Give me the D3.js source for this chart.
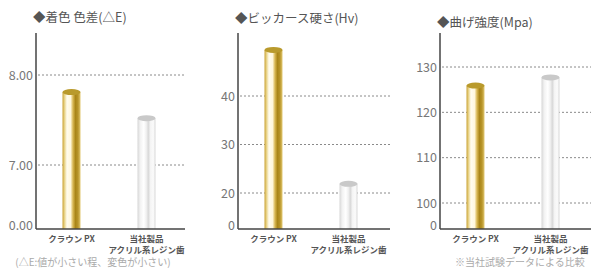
<!DOCTYPE html>
<html>
<head>
<meta charset="utf-8">
<script src="https://cdn.jsdelivr.net/npm/d3@7"></script>
<style>
body { margin: 0; background: #fff; }
#vis { width: 591px; height: 268px; }
text { font-family: "Noto Sans CJK JP", "Noto Sans", sans-serif; }
</style>
</head>
<body>
<div id="vis"></div>
<script>
var width = 591;
var height = 268;

// data
var categories = ['クラウン PX', '当社製品|アクリル系レジン歯'];
var titles = ['◆着色 色差(△E)', '◆ビッカース硬さ(Hv)', '◆曲げ強度(Mpa)'];
var colorValues = [7.81, 7.52];
var hardnessValues = [49.5, 21.9];
var strengthValues = [125.9, 127.7];
var colorTicks = [0, 7, 8];
var hardnessTicks = [0, 20, 30, 40];
var strengthTicks = [0, 100, 110, 120, 130];
var colorTickLabels = ['0.00', '7.00', '8.00'];
var hardnessTickLabels = ['0', '20', '30', '40'];
var strengthTickLabels = ['0', '100', '110', '120', '130'];
var notes = ['(△E:値が小さい程、変色が小さい)', '', '※当社試験データによる比較'];

var baseY = 229;
var topY = 33;

var panels = [
    { axisX: 36, right: 185, titleY: 22, values: colorValues, ticks: colorTicks, labels: colorTickLabels,
      domain: [0, 7, 8], range: [baseY, 165, 75], note: notes[0], noteX: 93 },
    { axisX: 238, right: 390, titleY: 23, values: hardnessValues, ticks: hardnessTicks, labels: hardnessTickLabels,
      domain: [0, 20, 40], range: [baseY, 193, 96], note: notes[1], noteX: 0 },
    { axisX: 440, right: 591, titleY: 27, values: strengthValues, ticks: strengthTicks, labels: strengthTickLabels,
      domain: [0, 100, 130], range: [baseY, 203, 67], note: notes[2], noteX: 455 }
];

var svg = d3.select('#vis')
    .append('svg')
    .attr('width', width)
    .attr('height', height);

var defs = svg.append('defs');

var gold = defs.append('linearGradient').attr('id', 'gold');
[[0, '#c9a233'], [0.12, '#ead68e'], [0.25, '#fffcef'], [0.45, '#fff7dc'], [0.58, '#d9b853'],
 [0.72, '#a98518'], [0.86, '#b8952a'], [1, '#e2c871']].forEach(function(s) {
    gold.append('stop').attr('offset', s[0]).attr('stop-color', s[1]);
});

var silver = defs.append('linearGradient').attr('id', 'silver');
[[0, '#d6d6d6'], [0.15, '#f2f2f2'], [0.35, '#ffffff'], [0.5, '#eeeeee'], [0.6, '#d8d8d8'],
 [0.72, '#f4f4f4'], [0.88, '#fbfbfb'], [1, '#d9d9d9']].forEach(function(s) {
    silver.append('stop').attr('offset', s[0]).attr('stop-color', s[1]);
});

var fills = ['url(#gold)', 'url(#silver)'];
var capFills = ['#b99a2c', '#c9c9c9'];

panels.forEach(function(p, i) {
    var g = svg.append('g');

    var y_scale = d3.scaleLinear()
        .domain(p.domain)
        .range(p.range);

    var x_scale = d3.scaleBand()
        .domain(categories)
        .range([p.axisX - 2, p.axisX + 148])
        .paddingInner(0.76)
        .paddingOuter(0.38);

    // title
    g.append('text')
        .attr('x', p.axisX - 3)
        .attr('y', p.titleY)
        .attr('font-size', 12.5)
        .attr('fill', '#555')
        .text(titles[i]);

    // grid lines (skip 0)
    g.selectAll('.grid')
        .data(p.ticks.filter(function(d) { return d > 0; }))
        .enter()
        .append('line')
        .attr('x1', p.axisX + 2)
        .attr('x2', p.right)
        .attr('y1', function(d) { return y_scale(d); })
        .attr('y2', function(d) { return y_scale(d); })
        .attr('stroke', '#8a8a8a')
        .attr('stroke-width', 1)
        .attr('stroke-dasharray', '2,2');

    // tick labels
    g.selectAll('.tick')
        .data(p.ticks)
        .enter()
        .append('text')
        .attr('x', p.axisX - 3)
        .attr('y', function(d) { return y_scale(d) + (d === 0 ? 1 : 4.5); })
        .attr('text-anchor', 'end')
        .attr('font-size', 12.5)
        .attr('fill', '#777')
        .text(function(d, j) { return p.labels[j]; });

    // bars
    var bw = x_scale.bandwidth();
    var bars = g.selectAll('.bar')
        .data(p.values)
        .enter()
        .append('g');

    bars.append('rect')
        .attr('x', function(d, j) { return x_scale(categories[j]); })
        .attr('y', function(d) { return y_scale(d); })
        .attr('width', bw)
        .attr('height', function(d) { return baseY - y_scale(d); })
        .attr('fill', function(d, j) { return fills[j]; });

    bars.append('ellipse')
        .attr('cx', function(d, j) { return x_scale(categories[j]) + bw / 2; })
        .attr('cy', function(d) { return y_scale(d); })
        .attr('rx', bw / 2)
        .attr('ry', 3)
        .attr('fill', function(d, j) { return capFills[j]; });

    // axes
    g.append('line')
        .attr('x1', p.axisX).attr('x2', p.axisX)
        .attr('y1', topY).attr('y2', baseY)
        .attr('stroke', '#444').attr('stroke-width', 1.5);
    g.append('line')
        .attr('x1', p.axisX).attr('x2', p.right)
        .attr('y1', baseY).attr('y2', baseY)
        .attr('stroke', '#444').attr('stroke-width', 1.5);

    // category labels
    categories.forEach(function(c, j) {
        var lines = c.split('|');
        lines.forEach(function(l, k) {
            g.append('text')
                .attr('x', x_scale(c) + bw / 2)
                .attr('y', 242 + k * 11)
                .attr('text-anchor', 'middle')
                .attr('font-size', 8.5)
                .attr('font-weight', 'bold')
                .attr('fill', '#555')
                .text(l);
        });
    });

    if (p.note) {
        g.append('text')
            .attr('x', p.noteX)
            .attr('y', 266)
            .attr('text-anchor', i === 0 ? 'middle' : 'start')
            .attr('font-size', 10)
            .attr('fill', '#aaa')
            .text(p.note);
    }
});
</script>
</body>
</html>
